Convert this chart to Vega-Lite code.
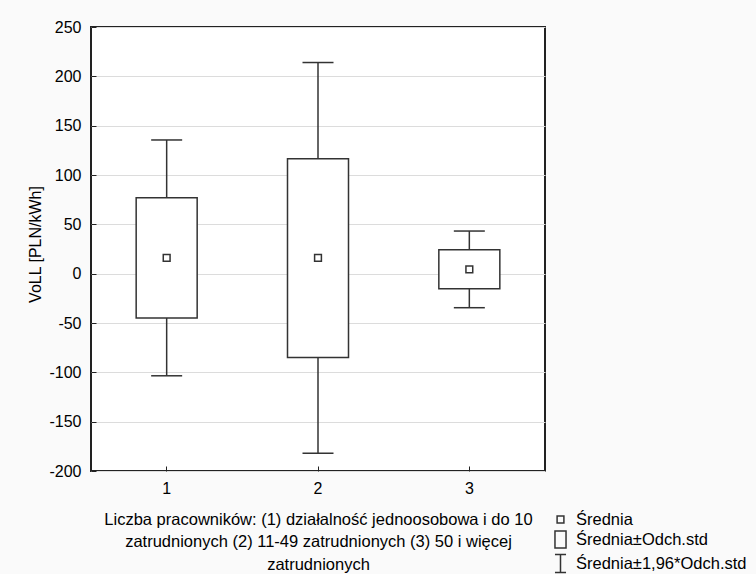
{
  "$schema": "https://vega.github.io/schema/vega-lite/v6.json",
  "width": 454,
  "height": 444,
  "autosize": {"type": "none"},
  "padding": {"left": 91, "top": 27, "right": 211, "bottom": 103},
  "background": "#fafafa",
  "config": {
    "font": "Liberation Sans",
    "view": {"fill": "white", "stroke": "#222", "strokeWidth": 2},
    "axis": {
      "domain": false,
      "tickColor": "#222",
      "tickSize": -5,
      "tickWidth": 1,
      "labelFont": "Liberation Sans",
      "labelFontSize": 16,
      "labelColor": "#000",
      "titleFont": "Liberation Sans",
      "titleFontSize": 16,
      "titleFontWeight": "normal",
      "titleColor": "#000"
    },
    "legend": {
      "labelFont": "Liberation Sans",
      "labelFontSize": 16.5,
      "labelColor": "#000",
      "labelLimit": 0
    }
  },
  "data": {
    "values": [
      {"grp": "1", "series": "Średnia", "mean": 16, "boxLo": -45, "boxHi": 77, "whLo": -103.5, "whHi": 135.5},
      {"grp": "2", "series": "Średnia", "mean": 16, "boxLo": -85, "boxHi": 116.5, "whLo": -182, "whHi": 214},
      {"grp": "3", "series": "Średnia", "mean": 4.3, "boxLo": -15.2, "boxHi": 24.3, "whLo": -34.5, "whHi": 43.2}
    ]
  },
  "encoding": {
    "x": {
      "field": "grp",
      "type": "ordinal",
      "scale": {"paddingInner": 0, "paddingOuter": 0},
      "axis": {
        "labelAngle": 0,
        "labelPadding": 14,
        "grid": false,
        "titlePadding": 15,
        "titleFontSize": 16.5,
        "titleLineHeight": 22.5,
        "title": ["Liczba pracowników: (1) działalność jednoosobowa i do 10", "zatrudnionych (2) 11-49 zatrudnionych (3) 50 i więcej", "zatrudnionych"]
      }
    }
  },
  "layer": [
    {
      "mark": {"type": "rule", "color": "#333", "strokeWidth": 1.5},
      "encoding": {
        "y": {
          "field": "whLo",
          "type": "quantitative",
          "scale": {"domain": [-200, 250], "nice": false, "zero": false},
          "axis": {
            "title": "VoLL [PLN/kWh]",
            "values": [-200, -150, -100, -50, 0, 50, 100, 150, 200, 250],
            "labelExpr": "toString(datum.value)",
            "grid": true,
            "gridColor": "#dcdcdc",
            "gridWidth": 1,
            "labelPadding": 15,
            "titlePadding": 5,
            "titleY": 217
          }
        },
        "y2": {"field": "whHi"}
      }
    },
    {
      "mark": {"type": "tick", "color": "#333", "thickness": 1.5, "size": 31, "opacity": 1},
      "encoding": {"y": {"field": "whLo", "type": "quantitative"}}
    },
    {
      "mark": {"type": "tick", "color": "#333", "thickness": 1.5, "size": 31, "opacity": 1},
      "encoding": {"y": {"field": "whHi", "type": "quantitative"}}
    },
    {
      "mark": {"type": "bar", "fill": "white", "stroke": "#333", "strokeWidth": 1.5, "width": 61},
      "encoding": {
        "y": {"field": "boxLo", "type": "quantitative"},
        "y2": {"field": "boxHi"}
      }
    },
    {
      "mark": {"type": "point", "filled": false, "color": "#333", "strokeWidth": 1.5, "size": 289, "opacity": 1},
      "encoding": {
        "y": {"field": "mean", "type": "quantitative"},
        "shape": {
          "field": "series",
          "type": "nominal",
          "scale": {
            "domain": ["Średnia", "Średnia±Odch.std", "Średnia±1,96*Odch.std"],
            "range": ["M-0.4,-0.4H0.4V0.4H-0.4Z", "M-0.65,-1H0.65V1H-0.65Z", "M-0.65,-1.05H0.65M0,-1.05V1.05M-0.65,1.05H0.65"]
          },
          "legend": {
            "title": null,
            "orient": "none",
            "legendX": 460,
            "legendY": 483,
            "padding": 0,
            "rowPadding": 0,
            "labelOffset": 6,
            "symbolSize": 289,
            "symbolStrokeWidth": 1.5,
            "symbolStrokeColor": "#333",
            "symbolFillColor": "transparent"
          }
        }
      }
    }
  ]
}
